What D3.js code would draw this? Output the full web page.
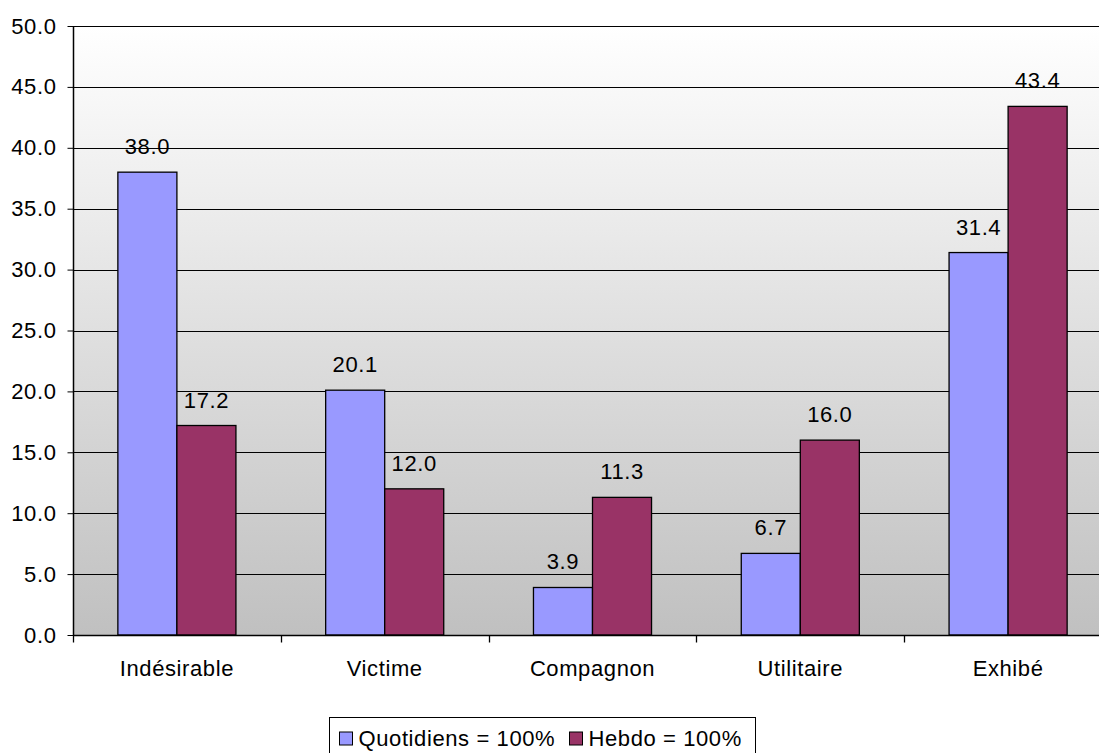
<!DOCTYPE html>
<html>
<head>
<meta charset="utf-8">
<script src="https://cdn.jsdelivr.net/npm/d3@7"></script>
<style>
  html, body { margin: 0; padding: 0; background: #fff; overflow: hidden; }
  svg { display: block; font-family: "Liberation Sans", Arial, sans-serif; }
  svg text { letter-spacing: 0.6px; }
</style>
</head>
<body>
<svg id="chart" width="1099" height="753"></svg>
<script>
// Data
const categories = ["Indésirable", "Victime", "Compagnon", "Utilitaire", "Exhibé"];
const seriesNames = ["Quotidiens = 100%", "Hebdo = 100%"];
const quotidiens = [38.0, 20.1, 3.9, 6.7, 31.4];
const hebdo = [17.2, 12.0, 11.3, 16.0, 43.4];
const yTicks = [0, 5, 10, 15, 20, 25, 30, 35, 40, 45, 50];
const colors = ["#9999FF", "#993366"];

const series = [quotidiens, hebdo];
const FONT = "'Liberation Sans', Arial, sans-serif";
const FS = 22;

const svg = d3.select("#chart");
const plot = { left: 73, top: 26, right: 1112, bottom: 635 };

const x = d3.scaleBand().domain(categories).range([plot.left, plot.right]).paddingInner(0).paddingOuter(0);
const xInner = d3.scaleBand().domain(d3.range(series.length)).range([0, x.bandwidth()]).paddingInner(0).paddingOuter(0.76);
const y = d3.scaleLinear().domain([0, 50]).range([plot.bottom, plot.top]);

// Plot background gradient
const defs = svg.append("defs");
const grad = defs.append("linearGradient").attr("id", "bg").attr("x1", 0).attr("y1", 0).attr("x2", 0).attr("y2", 1);
grad.append("stop").attr("offset", "0%").attr("stop-color", "#ffffff");
grad.append("stop").attr("offset", "100%").attr("stop-color", "#c0c0c0");

svg.append("rect")
  .attr("x", plot.left).attr("y", plot.top)
  .attr("width", plot.right - plot.left).attr("height", plot.bottom - plot.top)
  .attr("fill", "url(#bg)");

// Horizontal gridlines
svg.append("g").selectAll("line").data(yTicks.filter(d => d > 0)).join("line")
  .attr("x1", plot.left).attr("x2", plot.right)
  .attr("y1", d => Math.round(y(d)) + 0.5).attr("y2", d => Math.round(y(d)) + 0.5)
  .attr("stroke", "#000").attr("stroke-width", 1);

// Bars
const groups = svg.append("g").selectAll("g").data(categories).join("g")
  .attr("transform", d => `translate(${x(d)},0)`);

groups.selectAll("rect").data((c, i) => series.map((s, k) => ({ k, v: s[i] }))).join("rect")
  .attr("x", d => xInner(d.k))
  .attr("y", d => y(d.v))
  .attr("width", xInner.bandwidth())
  .attr("height", d => y(0) - y(d.v))
  .attr("fill", d => colors[d.k])
  .attr("stroke", "#000").attr("stroke-width", 1.3);

// Value labels
groups.selectAll("text").data((c, i) => series.map((s, k) => ({ k, v: s[i] }))).join("text")
  .attr("x", d => xInner(d.k) + xInner.bandwidth() / 2)
  .attr("y", d => y(d.v) - 18)
  .attr("text-anchor", "middle")
  .attr("font-size", FS)
  .attr("font-family", FONT)
  .attr("fill", "#000")
  .text(d => d.v.toFixed(1));

// Y axis
const yAxis = d3.axisLeft(y).tickValues(yTicks).tickFormat(d3.format(".1f")).tickSize(6).tickPadding(11);
const gy = svg.append("g").attr("transform", `translate(${plot.left + 0.5},0)`).call(yAxis);
gy.attr("font-size", null).attr("font-family", null);
gy.select(".domain").attr("stroke", "#000").attr("stroke-width", 1.5).attr("d", `M0,${plot.top}V${plot.bottom}`);
gy.selectAll(".tick line").attr("stroke", "#000");
gy.selectAll(".tick text").attr("font-size", FS).attr("fill", "#000").attr("font-family", FONT);

// X axis
const xAxis = d3.axisBottom(x).tickSize(0).tickPadding(25);
const gx = svg.append("g").attr("transform", `translate(0,${plot.bottom + 0.5})`).call(xAxis);
gx.attr("font-size", null).attr("font-family", null);
gx.select(".domain").attr("stroke", "#000").attr("stroke-width", 1.5).attr("d", `M${plot.left},0H${plot.right}`);
gx.selectAll(".tick text").attr("font-size", FS).attr("fill", "#000").attr("font-family", FONT);
// Category separator ticks
gx.append("g").selectAll("line").data(categories).join("line")
  .attr("x1", d => Math.round(x(d)) + 0.5).attr("x2", d => Math.round(x(d)) + 0.5)
  .attr("y1", 0).attr("y2", 7)
  .attr("stroke", "#000").attr("stroke-width", 1.3);

// Legend
const legend = svg.append("g").attr("transform", "translate(329.5,717.5)");
legend.append("rect").attr("width", 426).attr("height", 40)
  .attr("fill", "#fff").attr("stroke", "#000").attr("stroke-width", 1);
const itemX = [10, 240];
const items = legend.selectAll("g.item").data(seriesNames).join("g").attr("class", "item")
  .attr("transform", (d, i) => `translate(${itemX[i]},0)`);
items.append("rect").attr("x", 0).attr("y", 14.5).attr("width", 13).attr("height", 13)
  .attr("fill", (d, i) => colors[i]).attr("stroke", "#000").attr("stroke-width", 1);
items.append("text").attr("x", 19).attr("y", 28).attr("font-size", FS).attr("font-family", FONT)
  .attr("fill", "#000").text(d => d);
</script>
</body>
</html>
